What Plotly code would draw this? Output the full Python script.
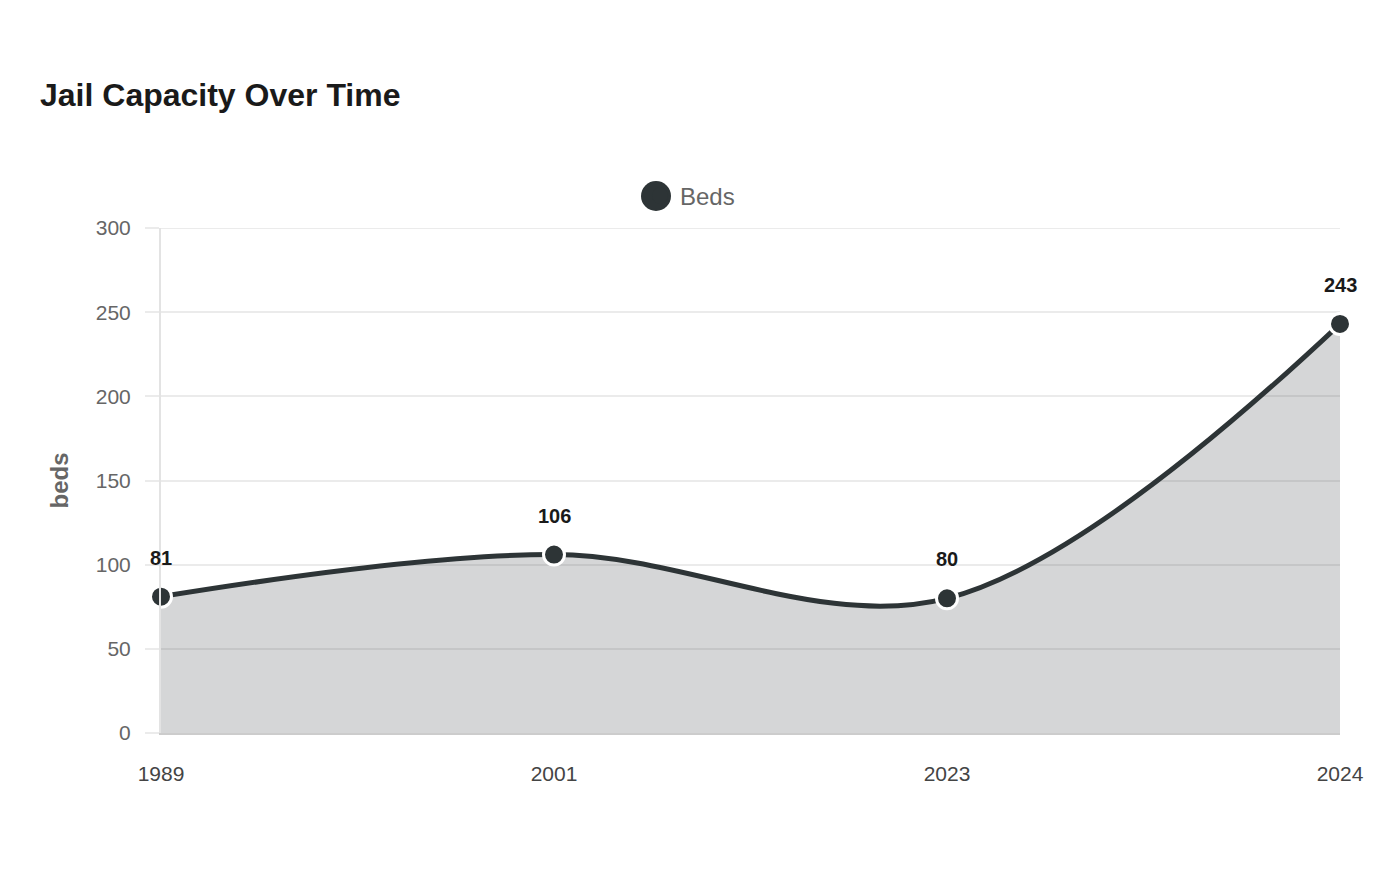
import plotly.graph_objects as go

years = ["1989", "2001", "2023", "2024"]
beds = [81, 106, 80, 243]
series_name = "Beds"
title_text = "Jail Capacity Over Time"
y_title = "beds"
y_ticks = [0, 50, 100, 150, 200, 250, 300]

LINE = "#2d3436"
FILL = "rgba(45,52,54,0.2)"
FONT = "Liberation Sans, Arial, sans-serif"

fig = go.Figure()
fig.add_trace(go.Scatter(
    x=years, y=beds, mode="lines+markers", name=series_name,
    line=dict(color=LINE, width=5, shape="spline", smoothing=1.0),
    marker=dict(size=21, color=LINE, line=dict(color="white", width=3)),
    fill="tozeroy", fillcolor=FILL, showlegend=False, cliponaxis=False,
))
# legend entry (marker only)
fig.add_trace(go.Scatter(
    x=[None], y=[None], mode="markers", name=series_name,
    marker=dict(size=16, color=LINE), showlegend=True,
))

for i, y in enumerate(beds):
    fig.add_annotation(x=i, y=y, xref="x", yref="y", text=f"<b>{y}</b>", showarrow=False,
                       yshift=39, font=dict(size=20, color="#1a1a1a", family=FONT))

# top gridline (plotly omits the gridline at the range edge)
fig.add_shape(type="line", xref="paper", yref="y", x0=0, x1=1,
              y0=y_ticks[-1], y1=y_ticks[-1],
              line=dict(color="#ebebeb", width=2), layer="below")

# enlarge the legend symbol to match the reference
lx = (656 - 161) / 1179
ly = (733 - 196) / 505
fig.add_shape(type="circle", xref="paper", yref="paper",
              xsizemode="pixel", ysizemode="pixel",
              xanchor=lx, yanchor=ly, x0=-15, x1=15, y0=-15, y1=15,
              fillcolor=LINE, line=dict(width=0), layer="above")

fig.update_layout(
    width=1400, height=880,
    margin=dict(l=161, r=60, t=228, b=147),
    paper_bgcolor="white", plot_bgcolor="white",
    font=dict(family=FONT),
    title=dict(text=f"<b>{title_text}</b>", x=40/1400, xanchor="left",
               y=1-95/880, yanchor="middle",
               font=dict(size=32, color="#1a1a1a", family=FONT)),
    legend=dict(orientation="h", x=(690-161)/1179, xanchor="center",
                y=1.0 + 32/505, yanchor="middle",
                font=dict(size=24, color="#666666", family=FONT),
                itemsizing="trace", bgcolor="rgba(0,0,0,0)"),
    showlegend=True,
)
fig.update_xaxes(
    type="category", range=[0, 3], showgrid=False,
    showline=True, linecolor="#cccccc", linewidth=2,
    ticks="outside", ticklen=21, tickcolor="rgba(0,0,0,0)",
    tickfont=dict(size=21, color="#444444", family=FONT),
    zeroline=False,
)
fig.update_yaxes(
    range=[0, 300], tickvals=y_ticks,
    showgrid=True, gridcolor="#ebebeb", gridwidth=2,
    showline=True, linecolor="#e3e3e3", linewidth=2,
    ticks="outside", ticklen=14, tickcolor="#ebebeb", tickwidth=2,
    ticklabelstandoff=10,
    tickfont=dict(size=21, color="#666666", family=FONT),
    title=dict(text=f"<b>{y_title}</b>", font=dict(size=24, color="#666666", family=FONT),
               standoff=20),
    zeroline=False,
)

fig.write_html("out.html")
